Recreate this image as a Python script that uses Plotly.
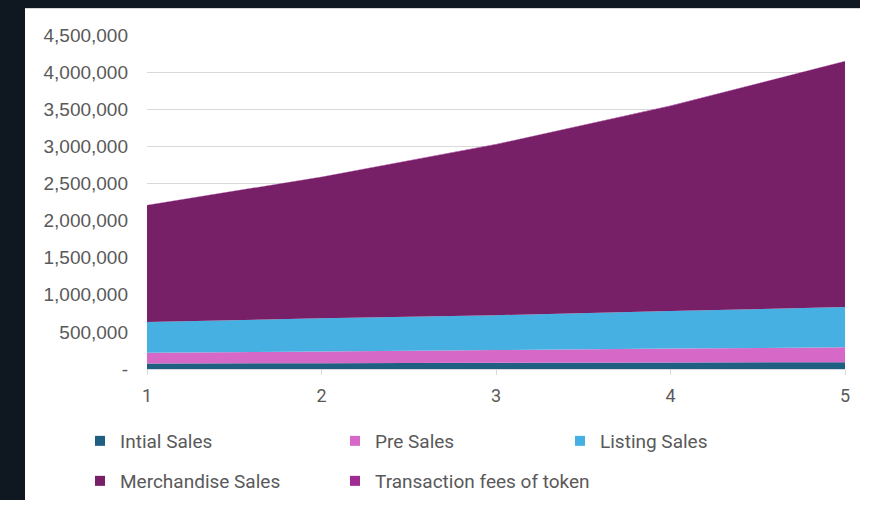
import plotly.graph_objects as go

# Projection years and revenue streams (stacked)
years = [1, 2, 3, 4, 5]
initial_sales = [75000, 79000, 83000, 88000, 91000]
pre_sales = [145000, 157000, 172000, 187000, 201000]
listing_sales = [413000, 447000, 470000, 505000, 543000]
merchandise_sales = [1574000, 1903000, 2301000, 2765000, 3310000]
transaction_fees = [3000, 3500, 4000, 4500, 5000]

series_names = ["Intial Sales", "Pre Sales", "Listing Sales",
                "Merchandise Sales", "Transaction fees of token"]
series_values = [initial_sales, pre_sales, listing_sales,
                 merchandise_sales, transaction_fees]
series_colors = ["#1e5f82", "#d669c8", "#45b0e1", "#771f67", "#a02b93"]

y_tick_vals = [0, 500000, 1000000, 1500000, 2000000, 2500000,
               3000000, 3500000, 4000000, 4500000]
y_tick_text = ["-", "500,000", "1,000,000", "1,500,000", "2,000,000",
               "2,500,000", "3,000,000", "3,500,000", "4,000,000", "4,500,000"]

# legend layout: which legend row and column width for each series
legend_rows = ["legend", "legend", "legend", "legend2", "legend2"]
legend_widths = [210, 180, 140, 210, 260]

fig = go.Figure()

for name, vals, col in zip(series_names, series_values, series_colors):
    fig.add_trace(go.Scatter(
        x=years, y=vals, name=name, stackgroup="one", mode="none",
        fillcolor=col, showlegend=False, hoverinfo="x+y+name",
    ))

# square legend keys
for name, col, lg, lw in zip(series_names, series_colors, legend_rows, legend_widths):
    fig.add_trace(go.Scatter(
        x=[None], y=[None], name=name, mode="markers",
        marker=dict(symbol="square", size=10, color=col),
        legend=lg, legendwidth=lw, showlegend=True,
    ))

W, H = 860, 500
L, R, T, B = 147, 15, 35, 131
pw, ph = W - L - R, H - T - B

def px_x(x):
    return (x - L) / pw

def px_y(y):
    return (H - B - y) / ph

dark = "#0f1720"
legend_font = dict(family="Roboto, Liberation Sans, sans-serif", size=19, color="#595959")

fig.update_layout(
    width=W, height=H,
    margin=dict(l=L, r=R, t=T, b=B, autoexpand=False),
    paper_bgcolor="#ffffff",
    plot_bgcolor="rgba(0,0,0,0)",
    shapes=[
        # dark surround on the left and top of the white card
        dict(type="rect", xref="paper", yref="paper", layer="below",
             x0=px_x(0), x1=px_x(25), y0=px_y(H), y1=px_y(0),
             fillcolor=dark, line=dict(width=0)),
        dict(type="rect", xref="paper", yref="paper", layer="below",
             x0=px_x(0), x1=px_x(W), y0=px_y(8), y1=px_y(0),
             fillcolor=dark, line=dict(width=0)),
        dict(type="line", xref="paper", yref="paper", layer="below",
             x0=px_x(25), x1=px_x(W), y0=px_y(8.5), y1=px_y(8.5),
             line=dict(color="#d6d6d6", width=1)),
    ],
    xaxis=dict(
        range=[1, 5], tickvals=years, ticktext=[str(y) for y in years],
        showgrid=False, showline=True, linecolor="#d9d9d9", linewidth=1,
        ticks="outside", ticklen=5, tickcolor="#d9d9d9",
        tickfont=dict(family="Roboto, Liberation Sans, sans-serif", size=18, color="#595959"),
        zeroline=False, ticklabelstandoff=5,
    ),
    yaxis=dict(
        range=[0, 4500000], tickvals=y_tick_vals, ticktext=y_tick_text,
        showgrid=True, gridcolor="#d9d9d9", gridwidth=1,
        zeroline=False, showline=False,
        tickfont=dict(family="Liberation Sans, Arial, sans-serif", size=19, color="#595959"),
        ticklabelstandoff=18,
    ),
    legend=dict(
        orientation="h", x=px_x(80), y=px_y(441), xanchor="left", yanchor="middle",
        font=legend_font, bgcolor="rgba(0,0,0,0)", entrywidthmode="pixels",
        traceorder="normal",
    ),
    legend2=dict(
        orientation="h", x=px_x(80), y=px_y(481), xanchor="left", yanchor="middle",
        font=legend_font, bgcolor="rgba(0,0,0,0)", entrywidthmode="pixels",
        traceorder="normal",
    ),
    hovermode="x unified",
)

fig.write_html("out.html")
